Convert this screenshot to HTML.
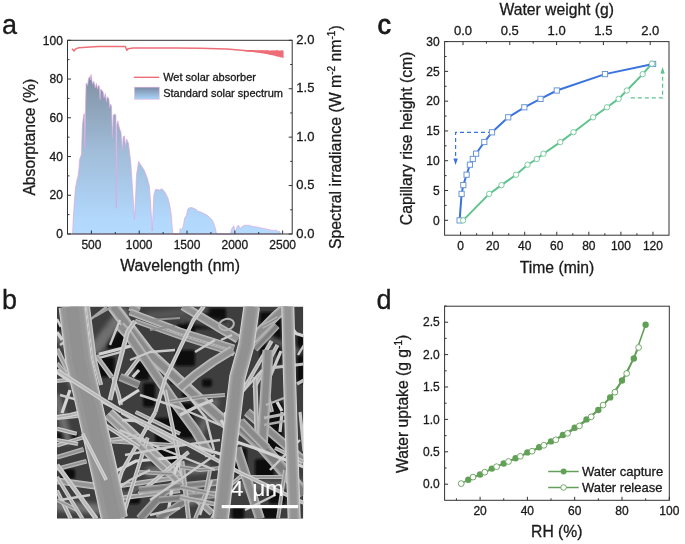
<!DOCTYPE html>
<html><head><meta charset="utf-8"><style>
html,body{margin:0;padding:0;background:#fff;}
svg{display:block;font-family:"Liberation Sans", sans-serif;will-change:transform;}
text{stroke:#1a1a1a;stroke-width:0.3px;}
</style></head><body>
<svg width="685" height="544" viewBox="0 0 685 544">
<rect width="685" height="544" fill="#fff"/>
<defs><linearGradient id="sg" gradientUnits="userSpaceOnUse" x1="0" y1="74" x2="0" y2="234"><stop offset="0" stop-color="#7e8da5"/><stop offset="0.106" stop-color="#879aae"/><stop offset="0.475" stop-color="#a0bcd8"/><stop offset="0.9125" stop-color="#b2d8fc"/><stop offset="1" stop-color="#b4dafe"/></linearGradient><linearGradient id="lg" x1="0" y1="0" x2="0" y2="1"><stop offset="0" stop-color="#7a8aa6"/><stop offset="1" stop-color="#aad6fa"/></linearGradient></defs>
<polygon points="72.6,234.0 73.5,215.0 75.3,189.0 77.0,180.0 78.1,176.0 79.0,168.0 79.5,160.0 81.5,154.0 82.2,130.0 82.6,124.0 83.5,116.0 84.3,113.5 84.9,148.0 85.4,113.0 86.1,83.4 87.0,84.0 87.6,85.6 88.3,80.0 89.0,77.6 89.9,76.8 90.4,80.0 91.1,74.5 92.0,81.2 92.7,84.2 93.8,81.2 95.3,87.9 96.4,83.4 97.5,89.3 98.5,85.5 99.3,86.0 100.1,99.6 100.6,89.0 101.4,90.1 103.0,91.5 104.1,98.1 105.4,93.4 106.3,101.8 107.4,96.7 108.9,98.9 109.6,107.7 110.5,104.0 111.5,106.2 112.4,137.6 113.3,115.0 115.2,113.9 115.9,116.0 116.3,208.4 116.8,125.0 117.8,120.9 119.4,128.0 121.0,132.5 122.3,150.8 123.2,137.0 124.4,135.8 125.5,146.8 126.6,139.1 128.5,143.5 129.3,150.0 130.7,161.5 132.4,186.3 134.5,219.4 135.5,200.0 136.5,174.8 138.7,161.5 140.7,164.8 144.0,169.8 147.3,178.0 149.4,186.3 150.6,202.9 152.2,231.0 153.9,194.6 155.5,189.6 157.2,189.6 159.5,190.0 162.1,188.8 165.5,193.0 167.9,197.9 169.6,204.5 171.2,214.4 172.6,232.6 172.9,234.0 179.7,234.0 180.2,228.4 181.8,230.0 183.3,225.9 184.8,217.7 186.3,215.7 187.9,209.0 188.9,208.0 191.5,207.5 194.0,208.5 196.1,209.5 198.1,211.4 200.7,212.1 203.7,213.6 206.8,215.1 209.9,217.7 212.4,220.3 213.9,223.8 215.5,229.0 216.5,234.0 230.3,234.0 231.9,228.5 233.8,225.8 235.2,232.7 237.1,226.6 238.5,225.1 240.0,228.5 241.9,227.0 243.8,225.4 248.0,225.4 253.7,226.6 258.5,227.3 263.2,228.5 268.0,229.4 272.7,230.4 276.5,230.2 278.4,231.8 279.3,231.1 281.2,234.0" fill="url(#sg)" stroke="#dba6dc" stroke-width="0.7" stroke-linejoin="round"/>
<polyline points="72.0,48.8 74.1,50.9 75.3,49.2 76.8,48.4 79.0,47.8 82.6,47.4 90.0,47.0 98.8,46.6 110.0,46.6 125.3,46.6 126.3,48.8 126.8,50.3 127.8,49.0 129.7,48.4 133.0,48.1 140.0,47.9 160.0,47.9 175.0,47.9 200.0,48.3 226.5,48.9 230.0,49.2 244.2,50.5 250.0,51.0 258.5,51.4 265.0,52.0 272.7,52.0 278.0,52.6 283.3,53.0" fill="none" stroke="#ee6e78" stroke-width="1.5" stroke-linejoin="round"/>
<polygon points="245.0,50.0 245.5,50.0 246.0,50.0 246.5,50.0 247.0,50.0 247.5,50.0 248.0,50.0 248.5,50.1 249.0,50.1 249.5,50.1 250.0,50.1 250.5,50.1 251.0,50.1 251.5,50.1 252.0,50.1 252.5,50.1 253.0,50.1 253.5,50.1 254.0,50.1 254.5,50.0 255.0,50.2 255.5,50.2 256.0,50.2 256.5,50.2 257.0,50.2 257.5,50.2 258.0,50.2 258.5,50.2 259.0,50.2 259.5,50.2 260.0,50.2 260.5,50.2 261.0,49.9 261.5,50.3 262.0,49.9 262.5,50.3 263.0,49.9 263.5,50.3 264.0,50.3 264.5,50.3 265.0,50.3 265.5,50.3 266.0,50.3 266.5,50.3 267.0,49.9 267.5,50.3 268.0,49.9 268.5,50.4 269.0,50.4 269.5,50.4 270.0,50.4 270.5,50.4 271.0,50.4 271.5,50.4 272.0,49.9 272.5,50.4 273.0,50.4 273.5,50.4 274.0,49.8 274.5,50.5 275.0,50.5 275.5,50.5 276.0,50.5 276.5,49.8 277.0,50.5 277.5,49.8 278.0,50.5 278.5,50.5 279.0,50.5 279.5,50.5 280.0,50.5 280.5,50.6 281.0,50.6 281.5,50.6 282.0,49.8 282.5,50.6 283.0,50.6 283.5,50.6 283.6,58.0 283.0,57.9 282.5,57.5 282.0,57.8 281.5,57.4 281.0,57.2 280.5,57.7 280.0,56.7 279.5,57.0 279.0,57.1 278.5,56.7 278.0,56.5 277.5,56.6 277.0,56.9 276.5,55.9 276.0,56.4 275.5,56.0 275.0,55.9 274.5,55.5 274.0,55.8 273.5,55.7 273.0,55.1 272.5,55.4 272.0,55.1 271.5,55.3 271.0,55.0 270.5,55.0 270.0,54.9 269.5,54.7 269.0,54.5 268.5,54.7 268.0,54.6 267.5,54.1 267.0,54.2 266.5,53.9 266.0,53.8 265.5,54.1 265.0,54.0 264.5,53.7 264.0,53.5 263.5,53.4 263.0,53.6 262.5,53.3 262.0,53.4 261.5,53.4 261.0,53.1 260.5,53.1 260.0,52.9 259.5,52.9 259.0,52.9 258.5,52.7 258.0,52.8 257.5,52.7 257.0,52.6 256.5,52.5 256.0,52.4 255.5,52.4 255.0,52.3 254.5,52.3 254.0,52.2 253.5,52.2 253.0,52.1 252.5,52.1 252.0,52.0 251.5,52.0 251.0,51.9 250.5,51.9 250.0,51.8 249.5,51.8 249.0,51.8 248.5,51.7 248.0,51.7 247.5,51.6 247.0,51.6 246.5,51.6 246.0,51.6 245.5,51.5 245.0,51.5" fill="#ee6e78"/>
<rect x="67.5" y="40.3" width="224.7" height="193.7" fill="none" stroke="#333333" stroke-width="1"/>
<line x1="67.50" y1="234.00" x2="71.00" y2="234.00" stroke="#333333" stroke-width="1" />
<text x="62.90" y="238.20" font-size="12" text-anchor="end" fill="#1a1a1a" >0</text>
<line x1="67.50" y1="214.63" x2="69.50" y2="214.63" stroke="#333333" stroke-width="1" />
<line x1="67.50" y1="195.26" x2="71.00" y2="195.26" stroke="#333333" stroke-width="1" />
<text x="62.90" y="199.46" font-size="12" text-anchor="end" fill="#1a1a1a" >20</text>
<line x1="67.50" y1="175.89" x2="69.50" y2="175.89" stroke="#333333" stroke-width="1" />
<line x1="67.50" y1="156.52" x2="71.00" y2="156.52" stroke="#333333" stroke-width="1" />
<text x="62.90" y="160.72" font-size="12" text-anchor="end" fill="#1a1a1a" >40</text>
<line x1="67.50" y1="137.15" x2="69.50" y2="137.15" stroke="#333333" stroke-width="1" />
<line x1="67.50" y1="117.78" x2="71.00" y2="117.78" stroke="#333333" stroke-width="1" />
<text x="62.90" y="121.98" font-size="12" text-anchor="end" fill="#1a1a1a" >60</text>
<line x1="67.50" y1="98.41" x2="69.50" y2="98.41" stroke="#333333" stroke-width="1" />
<line x1="67.50" y1="79.04" x2="71.00" y2="79.04" stroke="#333333" stroke-width="1" />
<text x="62.90" y="83.24" font-size="12" text-anchor="end" fill="#1a1a1a" >80</text>
<line x1="67.50" y1="59.67" x2="69.50" y2="59.67" stroke="#333333" stroke-width="1" />
<line x1="67.50" y1="40.30" x2="71.00" y2="40.30" stroke="#333333" stroke-width="1" />
<text x="62.90" y="44.50" font-size="12" text-anchor="end" fill="#1a1a1a" >100</text>
<line x1="292.20" y1="234.00" x2="288.70" y2="234.00" stroke="#333333" stroke-width="1" />
<text x="296.30" y="237.70" font-size="13" text-anchor="start" fill="#1a1a1a" >0.0</text>
<line x1="292.20" y1="209.79" x2="290.20" y2="209.79" stroke="#333333" stroke-width="1" />
<line x1="292.20" y1="185.57" x2="288.70" y2="185.57" stroke="#333333" stroke-width="1" />
<text x="296.30" y="189.27" font-size="13" text-anchor="start" fill="#1a1a1a" >0.5</text>
<line x1="292.20" y1="161.36" x2="290.20" y2="161.36" stroke="#333333" stroke-width="1" />
<line x1="292.20" y1="137.15" x2="288.70" y2="137.15" stroke="#333333" stroke-width="1" />
<text x="296.30" y="140.85" font-size="13" text-anchor="start" fill="#1a1a1a" >1.0</text>
<line x1="292.20" y1="112.94" x2="290.20" y2="112.94" stroke="#333333" stroke-width="1" />
<line x1="292.20" y1="88.73" x2="288.70" y2="88.73" stroke="#333333" stroke-width="1" />
<text x="296.30" y="92.43" font-size="13" text-anchor="start" fill="#1a1a1a" >1.5</text>
<line x1="292.20" y1="64.51" x2="290.20" y2="64.51" stroke="#333333" stroke-width="1" />
<line x1="292.20" y1="40.30" x2="288.70" y2="40.30" stroke="#333333" stroke-width="1" />
<text x="296.30" y="44.00" font-size="13" text-anchor="start" fill="#1a1a1a" >2.0</text>
<line x1="91.40" y1="234.00" x2="91.40" y2="230.50" stroke="#333333" stroke-width="1" />
<text x="91.40" y="248.80" font-size="12" text-anchor="middle" fill="#1a1a1a" >500</text>
<line x1="115.31" y1="234.00" x2="115.31" y2="232.00" stroke="#333333" stroke-width="1" />
<line x1="139.21" y1="234.00" x2="139.21" y2="230.50" stroke="#333333" stroke-width="1" />
<text x="139.21" y="248.80" font-size="12" text-anchor="middle" fill="#1a1a1a" >1000</text>
<line x1="163.12" y1="234.00" x2="163.12" y2="232.00" stroke="#333333" stroke-width="1" />
<line x1="187.02" y1="234.00" x2="187.02" y2="230.50" stroke="#333333" stroke-width="1" />
<text x="187.02" y="248.80" font-size="12" text-anchor="middle" fill="#1a1a1a" >1500</text>
<line x1="210.93" y1="234.00" x2="210.93" y2="232.00" stroke="#333333" stroke-width="1" />
<line x1="234.83" y1="234.00" x2="234.83" y2="230.50" stroke="#333333" stroke-width="1" />
<text x="234.83" y="248.80" font-size="12" text-anchor="middle" fill="#1a1a1a" >2000</text>
<line x1="258.73" y1="234.00" x2="258.73" y2="232.00" stroke="#333333" stroke-width="1" />
<line x1="282.64" y1="234.00" x2="282.64" y2="230.50" stroke="#333333" stroke-width="1" />
<text x="282.64" y="248.80" font-size="12" text-anchor="middle" fill="#1a1a1a" >2500</text>
<text x="180.10" y="271.20" font-size="15.8" text-anchor="middle" fill="#1a1a1a" >Wavelength (nm)</text>
<text x="0.00" y="0.00" font-size="15.7" text-anchor="middle" fill="#1a1a1a" transform="translate(34.9,137.2) rotate(-90)">Absorptance (%)</text>
<text font-size="15.85" text-anchor="middle" fill="#1a1a1a" transform="translate(340.6,137.2) rotate(-90)">Spectral irradiance (W m<tspan font-size="10" dy="-6">-2</tspan><tspan dy="6"> nm</tspan><tspan font-size="10" dy="-6">-1</tspan><tspan dy="6">)</tspan></text>
<line x1="133.90" y1="77.30" x2="159.20" y2="77.30" stroke="#ee6e78" stroke-width="1.4" />
<rect x="134.6" y="87.2" width="24.6" height="12" fill="url(#lg)" stroke="#dcb0e0" stroke-width="0.6"/>
<text x="163.20" y="81.10" font-size="11" text-anchor="start" fill="#1a1a1a" >Wet solar absorber</text>
<text x="163.20" y="96.90" font-size="11" text-anchor="start" fill="#1a1a1a" >Standard solar spectrum</text>
<text x="2.00" y="34.00" font-size="27" text-anchor="start" fill="#1a1a1a" >a</text>
<rect x="444.6" y="41.6" width="224.39999999999998" height="193.6" fill="none" stroke="#333333" stroke-width="1"/>
<line x1="444.60" y1="220.30" x2="448.10" y2="220.30" stroke="#333333" stroke-width="1" />
<text x="439.70" y="224.50" font-size="12" text-anchor="end" fill="#1a1a1a" >0</text>
<line x1="444.60" y1="205.41" x2="446.60" y2="205.41" stroke="#333333" stroke-width="1" />
<line x1="444.60" y1="190.52" x2="448.10" y2="190.52" stroke="#333333" stroke-width="1" />
<text x="439.70" y="194.72" font-size="12" text-anchor="end" fill="#1a1a1a" >5</text>
<line x1="444.60" y1="175.62" x2="446.60" y2="175.62" stroke="#333333" stroke-width="1" />
<line x1="444.60" y1="160.73" x2="448.10" y2="160.73" stroke="#333333" stroke-width="1" />
<text x="439.70" y="164.93" font-size="12" text-anchor="end" fill="#1a1a1a" >10</text>
<line x1="444.60" y1="145.84" x2="446.60" y2="145.84" stroke="#333333" stroke-width="1" />
<line x1="444.60" y1="130.94" x2="448.10" y2="130.94" stroke="#333333" stroke-width="1" />
<text x="439.70" y="135.14" font-size="12" text-anchor="end" fill="#1a1a1a" >15</text>
<line x1="444.60" y1="116.05" x2="446.60" y2="116.05" stroke="#333333" stroke-width="1" />
<line x1="444.60" y1="101.16" x2="448.10" y2="101.16" stroke="#333333" stroke-width="1" />
<text x="439.70" y="105.36" font-size="12" text-anchor="end" fill="#1a1a1a" >20</text>
<line x1="444.60" y1="86.27" x2="446.60" y2="86.27" stroke="#333333" stroke-width="1" />
<line x1="444.60" y1="71.38" x2="448.10" y2="71.38" stroke="#333333" stroke-width="1" />
<text x="439.70" y="75.58" font-size="12" text-anchor="end" fill="#1a1a1a" >25</text>
<line x1="444.60" y1="56.48" x2="446.60" y2="56.48" stroke="#333333" stroke-width="1" />
<line x1="444.60" y1="41.59" x2="448.10" y2="41.59" stroke="#333333" stroke-width="1" />
<text x="439.70" y="45.79" font-size="12" text-anchor="end" fill="#1a1a1a" >30</text>
<line x1="460.60" y1="235.20" x2="460.60" y2="231.70" stroke="#333333" stroke-width="1" />
<text x="460.60" y="249.80" font-size="12" text-anchor="middle" fill="#1a1a1a" >0</text>
<line x1="476.63" y1="235.20" x2="476.63" y2="233.20" stroke="#333333" stroke-width="1" />
<line x1="492.66" y1="235.20" x2="492.66" y2="231.70" stroke="#333333" stroke-width="1" />
<text x="492.66" y="249.80" font-size="12" text-anchor="middle" fill="#1a1a1a" >20</text>
<line x1="508.69" y1="235.20" x2="508.69" y2="233.20" stroke="#333333" stroke-width="1" />
<line x1="524.72" y1="235.20" x2="524.72" y2="231.70" stroke="#333333" stroke-width="1" />
<text x="524.72" y="249.80" font-size="12" text-anchor="middle" fill="#1a1a1a" >40</text>
<line x1="540.75" y1="235.20" x2="540.75" y2="233.20" stroke="#333333" stroke-width="1" />
<line x1="556.78" y1="235.20" x2="556.78" y2="231.70" stroke="#333333" stroke-width="1" />
<text x="556.78" y="249.80" font-size="12" text-anchor="middle" fill="#1a1a1a" >60</text>
<line x1="572.81" y1="235.20" x2="572.81" y2="233.20" stroke="#333333" stroke-width="1" />
<line x1="588.84" y1="235.20" x2="588.84" y2="231.70" stroke="#333333" stroke-width="1" />
<text x="588.84" y="249.80" font-size="12" text-anchor="middle" fill="#1a1a1a" >80</text>
<line x1="604.87" y1="235.20" x2="604.87" y2="233.20" stroke="#333333" stroke-width="1" />
<line x1="620.90" y1="235.20" x2="620.90" y2="231.70" stroke="#333333" stroke-width="1" />
<text x="620.90" y="249.80" font-size="12" text-anchor="middle" fill="#1a1a1a" >100</text>
<line x1="636.93" y1="235.20" x2="636.93" y2="233.20" stroke="#333333" stroke-width="1" />
<line x1="652.96" y1="235.20" x2="652.96" y2="231.70" stroke="#333333" stroke-width="1" />
<text x="652.96" y="249.80" font-size="12" text-anchor="middle" fill="#1a1a1a" >120</text>
<line x1="463.00" y1="41.60" x2="463.00" y2="45.10" stroke="#333333" stroke-width="1" />
<text x="463.00" y="34.90" font-size="13" text-anchor="middle" fill="#1a1a1a" >0.0</text>
<line x1="486.40" y1="41.60" x2="486.40" y2="43.60" stroke="#333333" stroke-width="1" />
<line x1="509.80" y1="41.60" x2="509.80" y2="45.10" stroke="#333333" stroke-width="1" />
<text x="509.80" y="34.90" font-size="13" text-anchor="middle" fill="#1a1a1a" >0.5</text>
<line x1="533.20" y1="41.60" x2="533.20" y2="43.60" stroke="#333333" stroke-width="1" />
<line x1="556.60" y1="41.60" x2="556.60" y2="45.10" stroke="#333333" stroke-width="1" />
<text x="556.60" y="34.90" font-size="13" text-anchor="middle" fill="#1a1a1a" >1.0</text>
<line x1="580.00" y1="41.60" x2="580.00" y2="43.60" stroke="#333333" stroke-width="1" />
<line x1="603.40" y1="41.60" x2="603.40" y2="45.10" stroke="#333333" stroke-width="1" />
<text x="603.40" y="34.90" font-size="13" text-anchor="middle" fill="#1a1a1a" >1.5</text>
<line x1="626.80" y1="41.60" x2="626.80" y2="43.60" stroke="#333333" stroke-width="1" />
<line x1="650.20" y1="41.60" x2="650.20" y2="45.10" stroke="#333333" stroke-width="1" />
<text x="650.20" y="34.90" font-size="13" text-anchor="middle" fill="#1a1a1a" >2.0</text>
<text x="557.00" y="273.00" font-size="15.7" text-anchor="middle" fill="#1a1a1a" >Time (min)</text>
<text x="556.75" y="14.70" font-size="15.7" text-anchor="middle" fill="#1a1a1a" >Water weight (g)</text>
<text x="0.00" y="0.00" font-size="15.7" text-anchor="middle" fill="#1a1a1a" transform="translate(411.5,138.4) rotate(-90)">Capillary rise height (cm)</text>
<text x="377.40" y="34.00" font-size="27" text-anchor="start" fill="#1a1a1a" style="stroke-width:0.9px">c</text>
<polyline points="492,132.3 455.6,132.3 455.6,160" fill="none" stroke="#3a73e0" stroke-width="1.2" stroke-dasharray="4,3"/>
<polygon points="453.4,158.5 457.8,158.5 455.6,165" fill="#3a73e0"/>
<polyline points="630.8,97.9 662.6,97.9 662.6,72" fill="none" stroke="#5ec48e" stroke-width="1.2" stroke-dasharray="4,3"/>
<polygon points="660.4,73.5 664.8,73.5 662.6,67" fill="#5ec48e"/>
<polyline points="459.6,220.4 461.6,193.9 463.3,185.1 466.6,174.7 469.9,164.7 472.8,159 476.1,153.7 484.3,142 492,132.3 508.2,117.3 524.3,107.3 540.5,98.9 556.8,90.5 605,74.1 653.1,63.9" fill="none" stroke="#3a73e0" stroke-width="2"/>
<polyline points="463.1,220.4 489.2,193.9 501.5,185.1 516.1,174.7 527.6,164.7 536.8,159 543.5,153.7 560.3,142.1 573.5,132.2 593.1,117.3 607,107.3 618.6,98.9 626.8,90.5 642.7,74.1 651.9,63.7" fill="none" stroke="#5ec48e" stroke-width="2"/>
<rect x="457.0" y="217.8" width="5.2" height="5.2" fill="#fff" stroke="#6b97d8" stroke-width="1"/>
<rect x="459.0" y="191.3" width="5.2" height="5.2" fill="#fff" stroke="#6b97d8" stroke-width="1"/>
<rect x="460.7" y="182.5" width="5.2" height="5.2" fill="#fff" stroke="#6b97d8" stroke-width="1"/>
<rect x="464.0" y="172.1" width="5.2" height="5.2" fill="#fff" stroke="#6b97d8" stroke-width="1"/>
<rect x="467.3" y="162.1" width="5.2" height="5.2" fill="#fff" stroke="#6b97d8" stroke-width="1"/>
<rect x="470.2" y="156.4" width="5.2" height="5.2" fill="#fff" stroke="#6b97d8" stroke-width="1"/>
<rect x="473.5" y="151.1" width="5.2" height="5.2" fill="#fff" stroke="#6b97d8" stroke-width="1"/>
<rect x="481.7" y="139.4" width="5.2" height="5.2" fill="#fff" stroke="#6b97d8" stroke-width="1"/>
<rect x="489.4" y="129.7" width="5.2" height="5.2" fill="#fff" stroke="#6b97d8" stroke-width="1"/>
<rect x="505.6" y="114.7" width="5.2" height="5.2" fill="#fff" stroke="#6b97d8" stroke-width="1"/>
<rect x="521.7" y="104.7" width="5.2" height="5.2" fill="#fff" stroke="#6b97d8" stroke-width="1"/>
<rect x="537.9" y="96.3" width="5.2" height="5.2" fill="#fff" stroke="#6b97d8" stroke-width="1"/>
<rect x="554.2" y="87.9" width="5.2" height="5.2" fill="#fff" stroke="#6b97d8" stroke-width="1"/>
<rect x="602.4" y="71.5" width="5.2" height="5.2" fill="#fff" stroke="#6b97d8" stroke-width="1"/>
<rect x="650.5" y="61.3" width="5.2" height="5.2" fill="#fff" stroke="#6b97d8" stroke-width="1"/>
<circle cx="463.1" cy="220.4" r="2.7" fill="#fff" stroke="#7dcca2" stroke-width="1"/>
<circle cx="489.2" cy="193.9" r="2.7" fill="#fff" stroke="#7dcca2" stroke-width="1"/>
<circle cx="501.5" cy="185.1" r="2.7" fill="#fff" stroke="#7dcca2" stroke-width="1"/>
<circle cx="516.1" cy="174.7" r="2.7" fill="#fff" stroke="#7dcca2" stroke-width="1"/>
<circle cx="527.6" cy="164.7" r="2.7" fill="#fff" stroke="#7dcca2" stroke-width="1"/>
<circle cx="536.8" cy="159" r="2.7" fill="#fff" stroke="#7dcca2" stroke-width="1"/>
<circle cx="543.5" cy="153.7" r="2.7" fill="#fff" stroke="#7dcca2" stroke-width="1"/>
<circle cx="560.3" cy="142.1" r="2.7" fill="#fff" stroke="#7dcca2" stroke-width="1"/>
<circle cx="573.5" cy="132.2" r="2.7" fill="#fff" stroke="#7dcca2" stroke-width="1"/>
<circle cx="593.1" cy="117.3" r="2.7" fill="#fff" stroke="#7dcca2" stroke-width="1"/>
<circle cx="607" cy="107.3" r="2.7" fill="#fff" stroke="#7dcca2" stroke-width="1"/>
<circle cx="618.6" cy="98.9" r="2.7" fill="#fff" stroke="#7dcca2" stroke-width="1"/>
<circle cx="626.8" cy="90.5" r="2.7" fill="#fff" stroke="#7dcca2" stroke-width="1"/>
<circle cx="642.7" cy="74.1" r="2.7" fill="#fff" stroke="#7dcca2" stroke-width="1"/>
<circle cx="651.9" cy="63.7" r="2.7" fill="#fff" stroke="#7dcca2" stroke-width="1"/>
<rect x="444.6" y="306.2" width="224.69999999999993" height="194.10000000000002" fill="none" stroke="#333333" stroke-width="1"/>
<line x1="444.60" y1="484.20" x2="448.10" y2="484.20" stroke="#333333" stroke-width="1" />
<text x="439.70" y="488.40" font-size="12" text-anchor="end" fill="#1a1a1a" >0.0</text>
<line x1="444.60" y1="468.00" x2="446.60" y2="468.00" stroke="#333333" stroke-width="1" />
<line x1="444.60" y1="451.80" x2="448.10" y2="451.80" stroke="#333333" stroke-width="1" />
<text x="439.70" y="456.00" font-size="12" text-anchor="end" fill="#1a1a1a" >0.5</text>
<line x1="444.60" y1="435.60" x2="446.60" y2="435.60" stroke="#333333" stroke-width="1" />
<line x1="444.60" y1="419.40" x2="448.10" y2="419.40" stroke="#333333" stroke-width="1" />
<text x="439.70" y="423.60" font-size="12" text-anchor="end" fill="#1a1a1a" >1.0</text>
<line x1="444.60" y1="403.20" x2="446.60" y2="403.20" stroke="#333333" stroke-width="1" />
<line x1="444.60" y1="387.00" x2="448.10" y2="387.00" stroke="#333333" stroke-width="1" />
<text x="439.70" y="391.20" font-size="12" text-anchor="end" fill="#1a1a1a" >1.5</text>
<line x1="444.60" y1="370.80" x2="446.60" y2="370.80" stroke="#333333" stroke-width="1" />
<line x1="444.60" y1="354.60" x2="448.10" y2="354.60" stroke="#333333" stroke-width="1" />
<text x="439.70" y="358.80" font-size="12" text-anchor="end" fill="#1a1a1a" >2.0</text>
<line x1="444.60" y1="338.40" x2="446.60" y2="338.40" stroke="#333333" stroke-width="1" />
<line x1="444.60" y1="322.20" x2="448.10" y2="322.20" stroke="#333333" stroke-width="1" />
<text x="439.70" y="326.40" font-size="12" text-anchor="end" fill="#1a1a1a" >2.5</text>
<line x1="444.60" y1="306.00" x2="446.60" y2="306.00" stroke="#333333" stroke-width="1" />
<line x1="456.43" y1="500.30" x2="456.43" y2="498.30" stroke="#333333" stroke-width="1" />
<line x1="480.08" y1="500.30" x2="480.08" y2="496.80" stroke="#333333" stroke-width="1" />
<text x="480.08" y="514.90" font-size="12" text-anchor="middle" fill="#1a1a1a" >20</text>
<line x1="503.73" y1="500.30" x2="503.73" y2="498.30" stroke="#333333" stroke-width="1" />
<line x1="527.38" y1="500.30" x2="527.38" y2="496.80" stroke="#333333" stroke-width="1" />
<text x="527.38" y="514.90" font-size="12" text-anchor="middle" fill="#1a1a1a" >40</text>
<line x1="551.04" y1="500.30" x2="551.04" y2="498.30" stroke="#333333" stroke-width="1" />
<line x1="574.69" y1="500.30" x2="574.69" y2="496.80" stroke="#333333" stroke-width="1" />
<text x="574.69" y="514.90" font-size="12" text-anchor="middle" fill="#1a1a1a" >60</text>
<line x1="598.34" y1="500.30" x2="598.34" y2="498.30" stroke="#333333" stroke-width="1" />
<line x1="621.99" y1="500.30" x2="621.99" y2="496.80" stroke="#333333" stroke-width="1" />
<text x="621.99" y="514.90" font-size="12" text-anchor="middle" fill="#1a1a1a" >80</text>
<line x1="645.65" y1="500.30" x2="645.65" y2="498.30" stroke="#333333" stroke-width="1" />
<line x1="669.30" y1="500.30" x2="669.30" y2="496.80" stroke="#333333" stroke-width="1" />
<text x="669.30" y="514.90" font-size="12" text-anchor="middle" fill="#1a1a1a" >100</text>
<text x="556.80" y="537.40" font-size="15.7" text-anchor="middle" fill="#1a1a1a" >RH (%)</text>
<text font-size="15.7" text-anchor="middle" fill="#1a1a1a" transform="translate(408.0,403.9) rotate(-90)">Water uptake (g g<tspan font-size="10" dy="-6">-1</tspan><tspan dy="6">)</tspan></text>
<text x="376.40" y="309.40" font-size="27" text-anchor="start" fill="#1a1a1a" >d</text>
<polyline points="468.3,479.7 480.1,474.5 491.9,468.6 503.7,463.5 515.6,458.3 527.4,452.4 539.2,447.3 551.0,441.4 562.9,435.0 574.7,427.8 586.5,419.4 598.3,410.0 610.2,397.4 622.0,380.5 633.8,358.5 645.6,324.8" fill="none" stroke="#62a058" stroke-width="1.6"/>
<polyline points="461.2,483.6 473.0,477.1 484.8,472.2 496.6,466.7 508.5,461.5 520.3,456.3 532.1,451.2 543.9,445.3 555.8,439.8 567.6,433.3 579.4,425.9 591.2,416.8 603.1,405.1 614.9,392.2 626.7,373.4 638.6,347.5" fill="none" stroke="#62a058" stroke-width="1.6"/>
<circle cx="468.3" cy="479.7" r="3.2" fill="#62a058"/>
<circle cx="480.1" cy="474.5" r="3.2" fill="#62a058"/>
<circle cx="491.9" cy="468.6" r="3.2" fill="#62a058"/>
<circle cx="503.7" cy="463.5" r="3.2" fill="#62a058"/>
<circle cx="515.6" cy="458.3" r="3.2" fill="#62a058"/>
<circle cx="527.4" cy="452.4" r="3.2" fill="#62a058"/>
<circle cx="539.2" cy="447.3" r="3.2" fill="#62a058"/>
<circle cx="551.0" cy="441.4" r="3.2" fill="#62a058"/>
<circle cx="562.9" cy="435.0" r="3.2" fill="#62a058"/>
<circle cx="574.7" cy="427.8" r="3.2" fill="#62a058"/>
<circle cx="586.5" cy="419.4" r="3.2" fill="#62a058"/>
<circle cx="598.3" cy="410.0" r="3.2" fill="#62a058"/>
<circle cx="610.2" cy="397.4" r="3.2" fill="#62a058"/>
<circle cx="622.0" cy="380.5" r="3.2" fill="#62a058"/>
<circle cx="633.8" cy="358.5" r="3.2" fill="#62a058"/>
<circle cx="645.6" cy="324.8" r="3.2" fill="#62a058"/>
<circle cx="461.2" cy="483.6" r="2.9" fill="#fff" stroke="#62a058" stroke-width="0.9"/>
<circle cx="473.0" cy="477.1" r="2.9" fill="#fff" stroke="#62a058" stroke-width="0.9"/>
<circle cx="484.8" cy="472.2" r="2.9" fill="#fff" stroke="#62a058" stroke-width="0.9"/>
<circle cx="496.6" cy="466.7" r="2.9" fill="#fff" stroke="#62a058" stroke-width="0.9"/>
<circle cx="508.5" cy="461.5" r="2.9" fill="#fff" stroke="#62a058" stroke-width="0.9"/>
<circle cx="520.3" cy="456.3" r="2.9" fill="#fff" stroke="#62a058" stroke-width="0.9"/>
<circle cx="532.1" cy="451.2" r="2.9" fill="#fff" stroke="#62a058" stroke-width="0.9"/>
<circle cx="543.9" cy="445.3" r="2.9" fill="#fff" stroke="#62a058" stroke-width="0.9"/>
<circle cx="555.8" cy="439.8" r="2.9" fill="#fff" stroke="#62a058" stroke-width="0.9"/>
<circle cx="567.6" cy="433.3" r="2.9" fill="#fff" stroke="#62a058" stroke-width="0.9"/>
<circle cx="579.4" cy="425.9" r="2.9" fill="#fff" stroke="#62a058" stroke-width="0.9"/>
<circle cx="591.2" cy="416.8" r="2.9" fill="#fff" stroke="#62a058" stroke-width="0.9"/>
<circle cx="603.1" cy="405.1" r="2.9" fill="#fff" stroke="#62a058" stroke-width="0.9"/>
<circle cx="614.9" cy="392.2" r="2.9" fill="#fff" stroke="#62a058" stroke-width="0.9"/>
<circle cx="626.7" cy="373.4" r="2.9" fill="#fff" stroke="#62a058" stroke-width="0.9"/>
<circle cx="638.6" cy="347.5" r="2.9" fill="#fff" stroke="#62a058" stroke-width="0.9"/>
<line x1="548.20" y1="471.50" x2="578.70" y2="471.50" stroke="#62a058" stroke-width="1.5" />
<circle cx="563.6" cy="471.5" r="3" fill="#62a058"/>
<line x1="548.20" y1="487.50" x2="578.70" y2="487.50" stroke="#62a058" stroke-width="1.5" />
<circle cx="563.6" cy="487.5" r="2.8" fill="#fff" stroke="#62a058" stroke-width="0.9"/>
<text x="582.00" y="475.80" font-size="13" text-anchor="start" fill="#1a1a1a" >Water capture</text>
<text x="582.00" y="491.80" font-size="13" text-anchor="start" fill="#1a1a1a" >Water release</text>
<text x="2.00" y="309.40" font-size="27" text-anchor="start" fill="#1a1a1a" >b</text>
<defs><clipPath id="semclip"><rect x="57.0" y="306.5" width="246.3" height="212.20000000000005"/></clipPath><filter id="bl2" filterUnits="userSpaceOnUse" x="0" y="280" width="340" height="264"><feGaussianBlur stdDeviation="2.2"/></filter><filter id="bl1" filterUnits="userSpaceOnUse" x="0" y="280" width="340" height="264"><feGaussianBlur stdDeviation="1.2"/></filter><filter id="bl0" filterUnits="userSpaceOnUse" x="0" y="280" width="340" height="264"><feGaussianBlur stdDeviation="0.45"/></filter></defs>
<g clip-path="url(#semclip)">
<rect x="57.0" y="306.5" width="246.3" height="212.20000000000005" fill="#3e3e3e"/>
<g filter="url(#bl1)">
<rect x="106.6" y="325.6" width="18.3" height="23.4" rx="3" fill="#0a0a0a"/>
<rect x="98.8" y="357.0" width="15.6" height="20.0" rx="3" fill="#0a0a0a"/>
<rect x="57.0" y="324.0" width="3.0" height="8.0" rx="3" fill="#0a0a0a"/>
<rect x="57.0" y="356.0" width="7.8" height="15.0" rx="3" fill="#0a0a0a"/>
<rect x="177.0" y="324.0" width="18.0" height="11.0" rx="3" fill="#0a0a0a"/>
<rect x="175.0" y="350.0" width="20.0" height="16.0" rx="3" fill="#0a0a0a"/>
<rect x="135.0" y="362.0" width="14.0" height="18.0" rx="3" fill="#0a0a0a"/>
<rect x="170.0" y="374.0" width="12.0" height="10.0" rx="3" fill="#0a0a0a"/>
<rect x="182.0" y="390.0" width="14.0" height="8.0" rx="3" fill="#0a0a0a"/>
<rect x="169.0" y="403.0" width="24.0" height="27.0" rx="3" fill="#0a0a0a"/>
<rect x="202.0" y="379.0" width="10.0" height="8.0" rx="3" fill="#0a0a0a"/>
<rect x="143.0" y="383.0" width="12.0" height="24.0" rx="3" fill="#0a0a0a"/>
<rect x="185.0" y="308.0" width="41.0" height="21.0" rx="3" fill="#0a0a0a"/>
<rect x="260.0" y="312.0" width="21.0" height="52.0" rx="3" fill="#0a0a0a"/>
<rect x="297.0" y="335.0" width="7.0" height="49.0" rx="3" fill="#0a0a0a"/>
<rect x="266.0" y="402.0" width="17.0" height="44.0" rx="3" fill="#0a0a0a"/>
<rect x="155.0" y="418.0" width="25.0" height="25.0" rx="3" fill="#0a0a0a"/>
<rect x="167.0" y="451.0" width="13.0" height="20.0" rx="3" fill="#0a0a0a"/>
<rect x="57.0" y="432.0" width="20.0" height="8.0" rx="3" fill="#0a0a0a"/>
<rect x="126.0" y="487.0" width="14.0" height="17.0" rx="3" fill="#0a0a0a"/>
<rect x="61.0" y="469.0" width="14.0" height="10.0" rx="3" fill="#0a0a0a"/>
<rect x="180.0" y="416.0" width="14.0" height="22.0" rx="3" fill="#0a0a0a"/>
<rect x="263.0" y="424.0" width="19.0" height="31.0" rx="3" fill="#0a0a0a"/>
<rect x="255.0" y="459.0" width="19.0" height="18.0" rx="3" fill="#0a0a0a"/>
<rect x="269.0" y="481.0" width="17.0" height="23.0" rx="3" fill="#0a0a0a"/>
<rect x="152.0" y="448.0" width="23.0" height="17.0" rx="3" fill="#0a0a0a"/>
<rect x="234.0" y="448.0" width="13.0" height="26.0" rx="3" fill="#0a0a0a"/>
<rect x="255.0" y="507.0" width="25.0" height="12.0" rx="3" fill="#0a0a0a"/>
<rect x="232.0" y="507.0" width="12.0" height="12.0" rx="3" fill="#0a0a0a"/>
</g>
<polyline points="96.2,347.8 110.0,330.0 122.3,313.8" fill="none" stroke="#707070" stroke-width="12" stroke-linejoin="round" stroke-linecap="round" filter="url(#bl2)"/>
<polyline points="150.0,316.0 205.0,310.0" fill="none" stroke="#555555" stroke-width="8" stroke-linejoin="round" stroke-linecap="round" filter="url(#bl2)"/>
<polyline points="57.0,336.0 68.0,346.0" fill="none" stroke="#6e6e6e" stroke-width="8" stroke-linejoin="round" stroke-linecap="round" filter="url(#bl2)"/>
<polyline points="255.0,332.0 300.0,352.0" fill="none" stroke="#5a5a5a" stroke-width="6" stroke-linejoin="round" stroke-linecap="round" filter="url(#bl2)"/>
<polyline points="150.0,472.0 205.0,468.0" fill="none" stroke="#6e6e6e" stroke-width="10" stroke-linejoin="round" stroke-linecap="round" filter="url(#bl2)"/>
<polyline points="240.0,487.0 300.0,484.0" fill="none" stroke="#646464" stroke-width="10" stroke-linejoin="round" stroke-linecap="round" filter="url(#bl2)"/>
<polyline points="57.0,506.0 100.0,509.0" fill="none" stroke="#737373" stroke-width="10" stroke-linejoin="round" stroke-linecap="round" filter="url(#bl2)"/>
<polyline points="190.0,500.0 225.0,490.0" fill="none" stroke="#737373" stroke-width="10" stroke-linejoin="round" stroke-linecap="round" filter="url(#bl2)"/>
<polyline points="57.0,398.0 68.0,440.0" fill="none" stroke="#6e6e6e" stroke-width="8" stroke-linejoin="round" stroke-linecap="round" filter="url(#bl2)"/>
<polyline points="120.0,500.0 140.0,486.0" fill="none" stroke="#646464" stroke-width="8" stroke-linejoin="round" stroke-linecap="round" filter="url(#bl2)"/>
<polyline points="200.0,432.0 215.0,402.0" fill="none" stroke="#646464" stroke-width="8" stroke-linejoin="round" stroke-linecap="round" filter="url(#bl2)"/>
<polyline points="62.0,362.0 78.0,392.0" fill="none" stroke="#737373" stroke-width="8" stroke-linejoin="round" stroke-linecap="round" filter="url(#bl2)"/>
<polyline points="185.0,318.0 225.0,326.0" fill="none" stroke="#505050" stroke-width="8" stroke-linejoin="round" stroke-linecap="round" filter="url(#bl2)"/>
<polyline points="265.0,330.0 275.0,360.0" fill="none" stroke="#505050" stroke-width="6" stroke-linejoin="round" stroke-linecap="round" filter="url(#bl2)"/>
<polyline points="155.0,425.0 175.0,440.0" fill="none" stroke="#505050" stroke-width="6" stroke-linejoin="round" stroke-linecap="round" filter="url(#bl2)"/>
<g filter="url(#bl0)"><polyline points="90.9,319.1 106.6,306.7" fill="none" stroke="#adadad" stroke-width="2.4000000000000004" stroke-linejoin="round"/></g>
<g filter="url(#bl0)"><polyline points="94.9,316.4 111.8,306.7" fill="none" stroke="#a4a4a4" stroke-width="2.4000000000000004" stroke-linejoin="round"/></g>
<g filter="url(#bl0)"><polyline points="98.8,354.3 139.0,343.9" fill="none" stroke="#d2d2d2" stroke-width="3.2" stroke-linejoin="round"/></g>
<g filter="url(#bl0)"><polyline points="100.1,357.6 122.3,351.7" fill="none" stroke="#c9c9c9" stroke-width="2.4000000000000004" stroke-linejoin="round"/></g>
<g filter="url(#bl0)"><polyline points="96.2,355.6 111.8,377.0" fill="none" stroke="#c4c4c4" stroke-width="4.800000000000001" stroke-linejoin="round"/><polyline points="96.2,355.6 111.8,377.0" fill="none" stroke="#aeaeae" stroke-width="2.8" stroke-linejoin="round"/><polyline points="96.2,355.6 111.8,377.0" fill="none" stroke="#979797" stroke-width="1.0" stroke-linejoin="round"/></g>
<g filter="url(#bl0)"><polyline points="124.9,377.0 139.0,358.2" fill="none" stroke="#d2d2d2" stroke-width="4.0" stroke-linejoin="round"/><polyline points="124.9,377.0 139.0,358.2" fill="none" stroke="#bcbcbc" stroke-width="2.0" stroke-linejoin="round"/><polyline points="124.9,377.0 139.0,358.2" fill="none" stroke="#a5a5a5" stroke-width="1.0" stroke-linejoin="round"/></g>
<g filter="url(#bl0)"><polyline points="132.7,377.0 139.0,370.0" fill="none" stroke="#cecece" stroke-width="3.2" stroke-linejoin="round"/></g>
<g filter="url(#bl0)"><polyline points="57.0,319.1 60.9,326.9" fill="none" stroke="#d4d4d4" stroke-width="2.4000000000000004" stroke-linejoin="round"/></g>
<g filter="url(#bl0)"><polyline points="57.0,332.1 62.2,339.9" fill="none" stroke="#d4d4d4" stroke-width="3.2" stroke-linejoin="round"/></g>
<g filter="url(#bl0)"><polyline points="57.0,349.1 68.1,371.3" fill="none" stroke="#c4c4c4" stroke-width="4.800000000000001" stroke-linejoin="round"/><polyline points="57.0,349.1 68.1,371.3" fill="none" stroke="#aeaeae" stroke-width="2.8" stroke-linejoin="round"/><polyline points="57.0,349.1 68.1,371.3" fill="none" stroke="#979797" stroke-width="1.0" stroke-linejoin="round"/></g>
<g filter="url(#bl0)"><polyline points="57.0,363.4 68.7,377.0" fill="none" stroke="#c0c0c0" stroke-width="4.0" stroke-linejoin="round"/><polyline points="57.0,363.4 68.7,377.0" fill="none" stroke="#a9a9a9" stroke-width="2.0" stroke-linejoin="round"/><polyline points="57.0,363.4 68.7,377.0" fill="none" stroke="#939393" stroke-width="1.0" stroke-linejoin="round"/></g>
<g filter="url(#bl0)"><polyline points="130.1,306.7 139.0,311.2" fill="none" stroke="#c0c0c0" stroke-width="8" stroke-linejoin="round"/><polyline points="130.1,306.7 139.0,311.2" fill="none" stroke="#a9a9a9" stroke-width="6.0" stroke-linejoin="round"/><polyline points="130.1,306.7 139.0,311.2" fill="none" stroke="#939393" stroke-width="4.0" stroke-linejoin="round"/></g>
<g filter="url(#bl0)"><polyline points="130.0,312.0 180.0,331.0 234.0,348.0" fill="none" stroke="#c0c0c0" stroke-width="7" stroke-linejoin="round"/><polyline points="130.0,312.0 180.0,331.0 234.0,348.0" fill="none" stroke="#a9a9a9" stroke-width="5.0" stroke-linejoin="round"/><polyline points="130.0,312.0 180.0,331.0 234.0,348.0" fill="none" stroke="#939393" stroke-width="3.0" stroke-linejoin="round"/></g>
<g filter="url(#bl0)"><polyline points="135.0,321.0 180.0,337.0 234.0,354.0" fill="none" stroke="#b7b7b7" stroke-width="4.800000000000001" stroke-linejoin="round"/><polyline points="135.0,321.0 180.0,337.0 234.0,354.0" fill="none" stroke="#a0a0a0" stroke-width="2.8" stroke-linejoin="round"/><polyline points="135.0,321.0 180.0,337.0 234.0,354.0" fill="none" stroke="#8a8a8a" stroke-width="1.0" stroke-linejoin="round"/></g>
<g filter="url(#bl0)"><polyline points="183.0,306.0 221.0,329.0 238.0,339.0" fill="none" stroke="#c0c0c0" stroke-width="9" stroke-linejoin="round"/><polyline points="183.0,306.0 221.0,329.0 238.0,339.0" fill="none" stroke="#a9a9a9" stroke-width="6.8" stroke-linejoin="round"/><polyline points="183.0,306.0 221.0,329.0 238.0,339.0" fill="none" stroke="#939393" stroke-width="4.7" stroke-linejoin="round"/></g>
<g filter="url(#bl0)"><polyline points="150.0,320.0 180.0,318.0" fill="none" stroke="#929292" stroke-width="2.0" stroke-linejoin="round"/></g>
<g filter="url(#bl0)"><polyline points="150.0,330.0 175.0,326.0" fill="none" stroke="#929292" stroke-width="2.0" stroke-linejoin="round"/></g>
<g filter="url(#bl0)"><ellipse cx="226.5" cy="324.5" rx="7.5" ry="5.5" transform="rotate(-15 226.5 324.5)" fill="none" stroke="#b4b4b4" stroke-width="2.0"/></g>
<g filter="url(#bl0)"><polyline points="245.0,346.0 254.8,337.0 275.0,316.6 287.0,306.0" fill="none" stroke="#bbbbbb" stroke-width="10" stroke-linejoin="round"/><polyline points="245.0,346.0 254.8,337.0 275.0,316.6 287.0,306.0" fill="none" stroke="#a5a5a5" stroke-width="7.6" stroke-linejoin="round"/><polyline points="245.0,346.0 254.8,337.0 275.0,316.6 287.0,306.0" fill="none" stroke="#8e8e8e" stroke-width="5.2" stroke-linejoin="round"/></g>
<g filter="url(#bl0)"><polyline points="271.6,341.0 244.3,388.0" fill="none" stroke="#d1d1d1" stroke-width="4.0" stroke-linejoin="round"/><polyline points="271.6,341.0 244.3,388.0" fill="none" stroke="#c2c2c2" stroke-width="2.0" stroke-linejoin="round"/><polyline points="271.6,341.0 244.3,388.0" fill="none" stroke="#b3b3b3" stroke-width="1.0" stroke-linejoin="round"/></g>
<g filter="url(#bl0)"><polyline points="277.5,345.0 254.0,388.0" fill="none" stroke="#cfcfcf" stroke-width="4.0" stroke-linejoin="round"/><polyline points="277.5,345.0 254.0,388.0" fill="none" stroke="#bebebe" stroke-width="2.0" stroke-linejoin="round"/><polyline points="277.5,345.0 254.0,388.0" fill="none" stroke="#aeaeae" stroke-width="1.0" stroke-linejoin="round"/></g>
<g filter="url(#bl0)"><polyline points="281.0,351.0 262.0,396.0" fill="none" stroke="#cccccc" stroke-width="3.2" stroke-linejoin="round"/></g>
<g filter="url(#bl0)"><polyline points="266.0,388.0 272.0,412.0" fill="none" stroke="#c9c9c9" stroke-width="4.0" stroke-linejoin="round"/><polyline points="266.0,388.0 272.0,412.0" fill="none" stroke="#b2b2b2" stroke-width="2.0" stroke-linejoin="round"/><polyline points="266.0,388.0 272.0,412.0" fill="none" stroke="#9c9c9c" stroke-width="1.0" stroke-linejoin="round"/></g>
<g filter="url(#bl0)"><polyline points="270.0,368.0 304.0,364.0" fill="none" stroke="#c4c4c4" stroke-width="3.2" stroke-linejoin="round"/></g>
<g filter="url(#bl0)"><polyline points="298.0,355.0 304.0,345.0" fill="none" stroke="#c9c9c9" stroke-width="2.4000000000000004" stroke-linejoin="round"/></g>
<g filter="url(#bl0)"><polyline points="297.0,384.0 304.0,380.0" fill="none" stroke="#c0c0c0" stroke-width="3.2" stroke-linejoin="round"/></g>
<g filter="url(#bl0)"><polyline points="262.0,327.0 278.0,318.0" fill="none" stroke="#b7b7b7" stroke-width="4.0" stroke-linejoin="round"/><polyline points="262.0,327.0 278.0,318.0" fill="none" stroke="#a0a0a0" stroke-width="2.0" stroke-linejoin="round"/><polyline points="262.0,327.0 278.0,318.0" fill="none" stroke="#8a8a8a" stroke-width="1.0" stroke-linejoin="round"/></g>
<g filter="url(#bl0)"><polyline points="255.0,349.0 277.0,325.6" fill="none" stroke="#adadad" stroke-width="7" stroke-linejoin="round"/><polyline points="255.0,349.0 277.0,325.6" fill="none" stroke="#979797" stroke-width="5.0" stroke-linejoin="round"/><polyline points="255.0,349.0 277.0,325.6" fill="none" stroke="#808080" stroke-width="3.0" stroke-linejoin="round"/></g>
<g filter="url(#bl0)"><polyline points="221.0,340.0 232.0,335.0" fill="none" stroke="#c9c9c9" stroke-width="2.4000000000000004" stroke-linejoin="round"/></g>
<g filter="url(#bl0)"><polyline points="113.0,306.5 148.4,352.7 199.8,400.0 222.0,420.0 240.0,434.0" fill="none" stroke="#c0c0c0" stroke-width="12" stroke-linejoin="round"/><polyline points="113.0,306.5 148.4,352.7 199.8,400.0 222.0,420.0 240.0,434.0" fill="none" stroke="#a9a9a9" stroke-width="9.1" stroke-linejoin="round"/><polyline points="113.0,306.5 148.4,352.7 199.8,400.0 222.0,420.0 240.0,434.0" fill="none" stroke="#939393" stroke-width="6.2" stroke-linejoin="round"/><polyline points="113.0,306.5 148.4,352.7 199.8,400.0 222.0,420.0 240.0,434.0" fill="none" stroke="#8b8b8b" stroke-width="5.4" stroke-linejoin="round"/></g>
<g filter="url(#bl0)"><polyline points="120.0,326.0 128.5,335.0 173.0,400.0 195.0,430.0 210.0,455.0" fill="none" stroke="#bbbbbb" stroke-width="10" stroke-linejoin="round"/><polyline points="120.0,326.0 128.5,335.0 173.0,400.0 195.0,430.0 210.0,455.0" fill="none" stroke="#a5a5a5" stroke-width="7.6" stroke-linejoin="round"/><polyline points="120.0,326.0 128.5,335.0 173.0,400.0 195.0,430.0 210.0,455.0" fill="none" stroke="#8e8e8e" stroke-width="5.2" stroke-linejoin="round"/></g>
<g filter="url(#bl0)"><polyline points="180.0,388.0 194.6,375.2 212.9,362.0 232.6,349.9" fill="none" stroke="#c0c0c0" stroke-width="9" stroke-linejoin="round"/><polyline points="180.0,388.0 194.6,375.2 212.9,362.0 232.6,349.9" fill="none" stroke="#a9a9a9" stroke-width="6.8" stroke-linejoin="round"/><polyline points="180.0,388.0 194.6,375.2 212.9,362.0 232.6,349.9" fill="none" stroke="#939393" stroke-width="4.7" stroke-linejoin="round"/></g>
<g filter="url(#bl0)"><polyline points="247.0,412.0 304.0,461.0" fill="none" stroke="#b7b7b7" stroke-width="9" stroke-linejoin="round"/><polyline points="247.0,412.0 304.0,461.0" fill="none" stroke="#a0a0a0" stroke-width="6.8" stroke-linejoin="round"/><polyline points="247.0,412.0 304.0,461.0" fill="none" stroke="#8a8a8a" stroke-width="4.7" stroke-linejoin="round"/></g>
<g filter="url(#bl0)"><polyline points="168.8,402.0 204.0,396.5 225.0,395.0" fill="none" stroke="#b7b7b7" stroke-width="4.0" stroke-linejoin="round"/><polyline points="168.8,402.0 204.0,396.5 225.0,395.0" fill="none" stroke="#a0a0a0" stroke-width="2.0" stroke-linejoin="round"/><polyline points="168.8,402.0 204.0,396.5 225.0,395.0" fill="none" stroke="#8a8a8a" stroke-width="1.0" stroke-linejoin="round"/></g>
<g filter="url(#bl0)"><polyline points="57.0,380.9 70.7,379.6" fill="none" stroke="#cecece" stroke-width="4.0" stroke-linejoin="round"/><polyline points="57.0,380.9 70.7,379.6" fill="none" stroke="#b7b7b7" stroke-width="2.0" stroke-linejoin="round"/><polyline points="57.0,380.9 70.7,379.6" fill="none" stroke="#a1a1a1" stroke-width="1.0" stroke-linejoin="round"/></g>
<g filter="url(#bl0)"><polyline points="57.0,417.9 77.7,415.9" fill="none" stroke="#cecece" stroke-width="4.0" stroke-linejoin="round"/><polyline points="57.0,417.9 77.7,415.9" fill="none" stroke="#b7b7b7" stroke-width="2.0" stroke-linejoin="round"/><polyline points="57.0,417.9 77.7,415.9" fill="none" stroke="#a1a1a1" stroke-width="1.0" stroke-linejoin="round"/></g>
<g filter="url(#bl0)"><polyline points="57.0,428.7 76.7,433.7" fill="none" stroke="#cecece" stroke-width="4.0" stroke-linejoin="round"/><polyline points="57.0,428.7 76.7,433.7" fill="none" stroke="#b7b7b7" stroke-width="2.0" stroke-linejoin="round"/><polyline points="57.0,428.7 76.7,433.7" fill="none" stroke="#a1a1a1" stroke-width="1.0" stroke-linejoin="round"/></g>
<g filter="url(#bl0)"><polyline points="57.0,445.5 82.6,437.6" fill="none" stroke="#c9c9c9" stroke-width="4.0" stroke-linejoin="round"/><polyline points="57.0,445.5 82.6,437.6" fill="none" stroke="#b2b2b2" stroke-width="2.0" stroke-linejoin="round"/><polyline points="57.0,445.5 82.6,437.6" fill="none" stroke="#9c9c9c" stroke-width="1.0" stroke-linejoin="round"/></g>
<g filter="url(#bl0)"><polyline points="57.0,457.3 83.6,449.4" fill="none" stroke="#b7b7b7" stroke-width="4.800000000000001" stroke-linejoin="round"/><polyline points="57.0,457.3 83.6,449.4" fill="none" stroke="#a0a0a0" stroke-width="2.8" stroke-linejoin="round"/><polyline points="57.0,457.3 83.6,449.4" fill="none" stroke="#8a8a8a" stroke-width="1.0" stroke-linejoin="round"/></g>
<g filter="url(#bl0)"><polyline points="57.0,469.0 86.5,461.2" fill="none" stroke="#bbbbbb" stroke-width="4.800000000000001" stroke-linejoin="round"/><polyline points="57.0,469.0 86.5,461.2" fill="none" stroke="#a5a5a5" stroke-width="2.8" stroke-linejoin="round"/><polyline points="57.0,469.0 86.5,461.2" fill="none" stroke="#8e8e8e" stroke-width="1.0" stroke-linejoin="round"/></g>
<g filter="url(#bl0)"><polyline points="57.0,480.9 100.3,486.8" fill="none" stroke="#c0c0c0" stroke-width="7" stroke-linejoin="round"/><polyline points="57.0,480.9 100.3,486.8" fill="none" stroke="#a9a9a9" stroke-width="5.0" stroke-linejoin="round"/><polyline points="57.0,480.9 100.3,486.8" fill="none" stroke="#939393" stroke-width="3.0" stroke-linejoin="round"/></g>
<g filter="url(#bl0)"><polyline points="57.0,490.7 70.8,519.0" fill="none" stroke="#d4d4d4" stroke-width="4.0" stroke-linejoin="round"/><polyline points="57.0,490.7 70.8,519.0" fill="none" stroke="#bfbfbf" stroke-width="2.0" stroke-linejoin="round"/><polyline points="57.0,490.7 70.8,519.0" fill="none" stroke="#aaaaaa" stroke-width="1.0" stroke-linejoin="round"/></g>
<g filter="url(#bl0)"><polyline points="57.0,500.0 77.0,510.0" fill="none" stroke="#c0c0c0" stroke-width="4.0" stroke-linejoin="round"/><polyline points="57.0,500.0 77.0,510.0" fill="none" stroke="#a9a9a9" stroke-width="2.0" stroke-linejoin="round"/><polyline points="57.0,500.0 77.0,510.0" fill="none" stroke="#939393" stroke-width="1.0" stroke-linejoin="round"/></g>
<g filter="url(#bl0)"><polyline points="57.0,465.0 96.4,519.0" fill="none" stroke="#d1d1d1" stroke-width="4.800000000000001" stroke-linejoin="round"/><polyline points="57.0,465.0 96.4,519.0" fill="none" stroke="#c2c2c2" stroke-width="2.8" stroke-linejoin="round"/><polyline points="57.0,465.0 96.4,519.0" fill="none" stroke="#b3b3b3" stroke-width="1.0" stroke-linejoin="round"/></g>
<g filter="url(#bl0)"><polyline points="57.0,477.0 82.6,519.0" fill="none" stroke="#cfcfcf" stroke-width="4.0" stroke-linejoin="round"/><polyline points="57.0,477.0 82.6,519.0" fill="none" stroke="#bebebe" stroke-width="2.0" stroke-linejoin="round"/><polyline points="57.0,477.0 82.6,519.0" fill="none" stroke="#aeaeae" stroke-width="1.0" stroke-linejoin="round"/></g>
<g filter="url(#bl0)"><polyline points="110.1,412.0 180.0,477.0" fill="none" stroke="#cecece" stroke-width="8" stroke-linejoin="round"/><polyline points="110.1,412.0 180.0,477.0" fill="none" stroke="#b7b7b7" stroke-width="6.0" stroke-linejoin="round"/><polyline points="110.1,412.0 180.0,477.0" fill="none" stroke="#a1a1a1" stroke-width="4.0" stroke-linejoin="round"/></g>
<g filter="url(#bl0)"><polyline points="122.0,412.0 180.0,445.5" fill="none" stroke="#d2d2d2" stroke-width="4.800000000000001" stroke-linejoin="round"/><polyline points="122.0,412.0 180.0,445.5" fill="none" stroke="#bcbcbc" stroke-width="2.8" stroke-linejoin="round"/><polyline points="122.0,412.0 180.0,445.5" fill="none" stroke="#a5a5a5" stroke-width="1.0" stroke-linejoin="round"/></g>
<g filter="url(#bl0)"><polyline points="135.7,412.0 180.0,433.7" fill="none" stroke="#cecece" stroke-width="4.0" stroke-linejoin="round"/><polyline points="135.7,412.0 180.0,433.7" fill="none" stroke="#b7b7b7" stroke-width="2.0" stroke-linejoin="round"/><polyline points="135.7,412.0 180.0,433.7" fill="none" stroke="#a1a1a1" stroke-width="1.0" stroke-linejoin="round"/></g>
<g filter="url(#bl0)"><polyline points="112.0,441.5 180.0,445.5" fill="none" stroke="#c0c0c0" stroke-width="4.0" stroke-linejoin="round"/><polyline points="112.0,441.5 180.0,445.5" fill="none" stroke="#a9a9a9" stroke-width="2.0" stroke-linejoin="round"/><polyline points="112.0,441.5 180.0,445.5" fill="none" stroke="#939393" stroke-width="1.0" stroke-linejoin="round"/></g>
<g filter="url(#bl0)"><polyline points="112.0,486.8 180.0,477.0" fill="none" stroke="#c0c0c0" stroke-width="4.800000000000001" stroke-linejoin="round"/><polyline points="112.0,486.8 180.0,477.0" fill="none" stroke="#a9a9a9" stroke-width="2.8" stroke-linejoin="round"/><polyline points="112.0,486.8 180.0,477.0" fill="none" stroke="#939393" stroke-width="1.0" stroke-linejoin="round"/></g>
<g filter="url(#bl0)"><polyline points="116.0,498.6 180.0,490.7" fill="none" stroke="#c0c0c0" stroke-width="4.800000000000001" stroke-linejoin="round"/><polyline points="116.0,498.6 180.0,490.7" fill="none" stroke="#a9a9a9" stroke-width="2.8" stroke-linejoin="round"/><polyline points="116.0,498.6 180.0,490.7" fill="none" stroke="#939393" stroke-width="1.0" stroke-linejoin="round"/></g>
<g filter="url(#bl0)"><polyline points="139.7,519.0 165.0,491.0 180.0,482.0" fill="none" stroke="#adadad" stroke-width="9" stroke-linejoin="round"/><polyline points="139.7,519.0 165.0,491.0 180.0,482.0" fill="none" stroke="#979797" stroke-width="6.8" stroke-linejoin="round"/><polyline points="139.7,519.0 165.0,491.0 180.0,482.0" fill="none" stroke="#808080" stroke-width="4.7" stroke-linejoin="round"/></g>
<g filter="url(#bl0)"><polyline points="116.0,471.0 136.0,461.0 180.0,457.0" fill="none" stroke="#d4d4d4" stroke-width="3.2" stroke-linejoin="round"/></g>
<g filter="url(#bl0)"><polyline points="147.6,437.6 122.0,519.0" fill="none" stroke="#d4d4d4" stroke-width="4.0" stroke-linejoin="round"/><polyline points="147.6,437.6 122.0,519.0" fill="none" stroke="#bfbfbf" stroke-width="2.0" stroke-linejoin="round"/><polyline points="147.6,437.6 122.0,519.0" fill="none" stroke="#aaaaaa" stroke-width="1.0" stroke-linejoin="round"/></g>
<g filter="url(#bl0)"><polyline points="155.4,412.0 122.0,471.0 116.0,490.0" fill="none" stroke="#d3d3d3" stroke-width="4.0" stroke-linejoin="round"/><polyline points="155.4,412.0 122.0,471.0 116.0,490.0" fill="none" stroke="#c5c5c5" stroke-width="2.0" stroke-linejoin="round"/><polyline points="155.4,412.0 122.0,471.0 116.0,490.0" fill="none" stroke="#b8b8b8" stroke-width="1.0" stroke-linejoin="round"/></g>
<g filter="url(#bl0)"><polyline points="165.0,390.0 176.9,448.0 183.0,478.0" fill="none" stroke="#d2d2d2" stroke-width="4.0" stroke-linejoin="round"/><polyline points="165.0,390.0 176.9,448.0 183.0,478.0" fill="none" stroke="#bcbcbc" stroke-width="2.0" stroke-linejoin="round"/><polyline points="165.0,390.0 176.9,448.0 183.0,478.0" fill="none" stroke="#a5a5a5" stroke-width="1.0" stroke-linejoin="round"/></g>
<g filter="url(#bl0)"><polyline points="167.0,519.0 175.0,471.0 180.0,461.0" fill="none" stroke="#d2d2d2" stroke-width="3.2" stroke-linejoin="round"/></g>
<g filter="url(#bl0)"><polyline points="106.6,415.4 141.6,448.0 212.0,513.0" fill="none" stroke="#c4c4c4" stroke-width="7" stroke-linejoin="round"/><polyline points="106.6,415.4 141.6,448.0 212.0,513.0" fill="none" stroke="#aeaeae" stroke-width="5.0" stroke-linejoin="round"/><polyline points="106.6,415.4 141.6,448.0 212.0,513.0" fill="none" stroke="#979797" stroke-width="3.0" stroke-linejoin="round"/></g>
<g filter="url(#bl0)"><polyline points="139.0,493.7 188.6,452.0" fill="none" stroke="#d1d1d1" stroke-width="4.0" stroke-linejoin="round"/><polyline points="139.0,493.7 188.6,452.0" fill="none" stroke="#c2c2c2" stroke-width="2.0" stroke-linejoin="round"/><polyline points="139.0,493.7 188.6,452.0" fill="none" stroke="#b3b3b3" stroke-width="1.0" stroke-linejoin="round"/></g>
<g filter="url(#bl0)"><polyline points="139.0,490.0 221.0,482.0" fill="none" stroke="#adadad" stroke-width="7" stroke-linejoin="round"/><polyline points="139.0,490.0 221.0,482.0" fill="none" stroke="#979797" stroke-width="5.0" stroke-linejoin="round"/><polyline points="139.0,490.0 221.0,482.0" fill="none" stroke="#808080" stroke-width="3.0" stroke-linejoin="round"/></g>
<g filter="url(#bl0)"><polyline points="158.0,519.0 191.0,497.0" fill="none" stroke="#a9a9a9" stroke-width="8" stroke-linejoin="round"/><polyline points="158.0,519.0 191.0,497.0" fill="none" stroke="#929292" stroke-width="6.0" stroke-linejoin="round"/><polyline points="158.0,519.0 191.0,497.0" fill="none" stroke="#7c7c7c" stroke-width="4.0" stroke-linejoin="round"/></g>
<g filter="url(#bl0)"><polyline points="159.0,500.0 221.0,494.0" fill="none" stroke="#a9a9a9" stroke-width="7" stroke-linejoin="round"/><polyline points="159.0,500.0 221.0,494.0" fill="none" stroke="#929292" stroke-width="5.0" stroke-linejoin="round"/><polyline points="159.0,500.0 221.0,494.0" fill="none" stroke="#7c7c7c" stroke-width="3.0" stroke-linejoin="round"/></g>
<g filter="url(#bl0)"><polyline points="139.0,472.0 172.0,474.0" fill="none" stroke="#b7b7b7" stroke-width="4.0" stroke-linejoin="round"/><polyline points="139.0,472.0 172.0,474.0" fill="none" stroke="#a0a0a0" stroke-width="2.0" stroke-linejoin="round"/><polyline points="139.0,472.0 172.0,474.0" fill="none" stroke="#8a8a8a" stroke-width="1.0" stroke-linejoin="round"/></g>
<g filter="url(#bl0)"><polyline points="182.0,461.0 188.6,519.0" fill="none" stroke="#c4c4c4" stroke-width="4.800000000000001" stroke-linejoin="round"/><polyline points="182.0,461.0 188.6,519.0" fill="none" stroke="#aeaeae" stroke-width="2.8" stroke-linejoin="round"/><polyline points="182.0,461.0 188.6,519.0" fill="none" stroke="#979797" stroke-width="1.0" stroke-linejoin="round"/></g>
<g filter="url(#bl0)"><polyline points="195.0,519.0 205.0,495.0 210.0,470.0" fill="none" stroke="#c0c0c0" stroke-width="4.0" stroke-linejoin="round"/><polyline points="195.0,519.0 205.0,495.0 210.0,470.0" fill="none" stroke="#a9a9a9" stroke-width="2.0" stroke-linejoin="round"/><polyline points="195.0,519.0 205.0,495.0 210.0,470.0" fill="none" stroke="#939393" stroke-width="1.0" stroke-linejoin="round"/></g>
<g filter="url(#bl0)"><polyline points="180.0,441.5 240.0,460.0" fill="none" stroke="#d2d2d2" stroke-width="3.2" stroke-linejoin="round"/></g>
<g filter="url(#bl0)"><polyline points="180.0,467.0 200.0,470.0 220.0,468.0" fill="none" stroke="#b7b7b7" stroke-width="4.0" stroke-linejoin="round"/><polyline points="180.0,467.0 200.0,470.0 220.0,468.0" fill="none" stroke="#a0a0a0" stroke-width="2.0" stroke-linejoin="round"/><polyline points="180.0,467.0 200.0,470.0 220.0,468.0" fill="none" stroke="#8a8a8a" stroke-width="1.0" stroke-linejoin="round"/></g>
<g filter="url(#bl0)"><polyline points="180.0,487.0 219.0,495.0" fill="none" stroke="#b7b7b7" stroke-width="4.800000000000001" stroke-linejoin="round"/><polyline points="180.0,487.0 219.0,495.0" fill="none" stroke="#a0a0a0" stroke-width="2.8" stroke-linejoin="round"/><polyline points="180.0,487.0 219.0,495.0" fill="none" stroke="#8a8a8a" stroke-width="1.0" stroke-linejoin="round"/></g>
<g filter="url(#bl0)"><polyline points="180.0,497.0 219.0,505.0" fill="none" stroke="#c0c0c0" stroke-width="4.800000000000001" stroke-linejoin="round"/><polyline points="180.0,497.0 219.0,505.0" fill="none" stroke="#a9a9a9" stroke-width="2.8" stroke-linejoin="round"/><polyline points="180.0,497.0 219.0,505.0" fill="none" stroke="#939393" stroke-width="1.0" stroke-linejoin="round"/></g>
<g filter="url(#bl0)"><polyline points="180.0,415.0 198.0,406.0 213.0,400.0" fill="none" stroke="#cecece" stroke-width="3.2" stroke-linejoin="round"/></g>
<g filter="url(#bl0)"><polyline points="212.0,519.0 227.0,488.0 240.0,477.0" fill="none" stroke="#c4c4c4" stroke-width="4.0" stroke-linejoin="round"/><polyline points="212.0,519.0 227.0,488.0 240.0,477.0" fill="none" stroke="#aeaeae" stroke-width="2.0" stroke-linejoin="round"/><polyline points="212.0,519.0 227.0,488.0 240.0,477.0" fill="none" stroke="#979797" stroke-width="1.0" stroke-linejoin="round"/></g>
<g filter="url(#bl0)"><polyline points="255.0,377.0 257.0,436.0" fill="none" stroke="#cecece" stroke-width="4.800000000000001" stroke-linejoin="round"/><polyline points="255.0,377.0 257.0,436.0" fill="none" stroke="#b7b7b7" stroke-width="2.8" stroke-linejoin="round"/><polyline points="255.0,377.0 257.0,436.0" fill="none" stroke="#a1a1a1" stroke-width="1.0" stroke-linejoin="round"/></g>
<g filter="url(#bl0)"><polyline points="268.0,350.0 266.5,377.0 262.0,450.0" fill="none" stroke="#b7b7b7" stroke-width="11" stroke-linejoin="round"/><polyline points="268.0,350.0 266.5,377.0 262.0,450.0" fill="none" stroke="#a0a0a0" stroke-width="8.4" stroke-linejoin="round"/><polyline points="268.0,350.0 266.5,377.0 262.0,450.0" fill="none" stroke="#8a8a8a" stroke-width="5.7" stroke-linejoin="round"/></g>
<g filter="url(#bl0)"><polyline points="237.0,424.0 262.0,446.0 304.0,494.0" fill="none" stroke="#b2b2b2" stroke-width="13" stroke-linejoin="round"/><polyline points="237.0,424.0 262.0,446.0 304.0,494.0" fill="none" stroke="#9b9b9b" stroke-width="9.9" stroke-linejoin="round"/><polyline points="237.0,424.0 262.0,446.0 304.0,494.0" fill="none" stroke="#858585" stroke-width="6.8" stroke-linejoin="round"/><polyline points="237.0,424.0 262.0,446.0 304.0,494.0" fill="none" stroke="#7d7d7d" stroke-width="5.9" stroke-linejoin="round"/></g>
<g filter="url(#bl0)"><polyline points="239.0,477.0 286.0,477.0" fill="none" stroke="#bbbbbb" stroke-width="4.0" stroke-linejoin="round"/><polyline points="239.0,477.0 286.0,477.0" fill="none" stroke="#a5a5a5" stroke-width="2.0" stroke-linejoin="round"/><polyline points="239.0,477.0 286.0,477.0" fill="none" stroke="#8e8e8e" stroke-width="1.0" stroke-linejoin="round"/></g>
<g filter="url(#bl0)"><polyline points="278.0,519.0 285.0,470.0" fill="none" stroke="#c0c0c0" stroke-width="4.0" stroke-linejoin="round"/><polyline points="278.0,519.0 285.0,470.0" fill="none" stroke="#a9a9a9" stroke-width="2.0" stroke-linejoin="round"/><polyline points="278.0,519.0 285.0,470.0" fill="none" stroke="#939393" stroke-width="1.0" stroke-linejoin="round"/></g>
<g filter="url(#bl0)"><polyline points="300.0,412.0 304.0,451.0" fill="none" stroke="#c9c9c9" stroke-width="3.2" stroke-linejoin="round"/></g>
<g filter="url(#bl0)"><polyline points="282.0,412.0 280.0,432.0" fill="none" stroke="#c9c9c9" stroke-width="3.2" stroke-linejoin="round"/></g>
<g filter="url(#bl0)"><polyline points="236.7,448.0 260.0,519.0" fill="none" stroke="#b7b7b7" stroke-width="10" stroke-linejoin="round"/><polyline points="236.7,448.0 260.0,519.0" fill="none" stroke="#a0a0a0" stroke-width="7.6" stroke-linejoin="round"/><polyline points="236.7,448.0 260.0,519.0" fill="none" stroke="#8a8a8a" stroke-width="5.2" stroke-linejoin="round"/></g>
<g filter="url(#bl0)"><polyline points="275.0,448.0 304.0,462.0" fill="none" stroke="#cecece" stroke-width="4.0" stroke-linejoin="round"/><polyline points="275.0,448.0 304.0,462.0" fill="none" stroke="#b7b7b7" stroke-width="2.0" stroke-linejoin="round"/><polyline points="275.0,448.0 304.0,462.0" fill="none" stroke="#a1a1a1" stroke-width="1.0" stroke-linejoin="round"/></g>
<g filter="url(#bl0)"><polyline points="240.6,421.4 266.7,448.0" fill="none" stroke="#b7b7b7" stroke-width="9" stroke-linejoin="round"/><polyline points="240.6,421.4 266.7,448.0" fill="none" stroke="#a0a0a0" stroke-width="6.8" stroke-linejoin="round"/><polyline points="240.6,421.4 266.7,448.0" fill="none" stroke="#8a8a8a" stroke-width="4.7" stroke-linejoin="round"/></g>
<g filter="url(#bl0)"><polyline points="221.0,420.0 230.0,435.0 238.0,445.0" fill="none" stroke="#d1d1d1" stroke-width="3.2" stroke-linejoin="round"/></g>
<g filter="url(#bl0)"><polyline points="277.0,402.0 282.0,411.0" fill="none" stroke="#d6d6d6" stroke-width="3.2" stroke-linejoin="round"/></g>
<g filter="url(#bl0)"><polyline points="264.0,418.0 285.0,414.0" fill="none" stroke="#b7b7b7" stroke-width="3.2" stroke-linejoin="round"/></g>
<g filter="url(#bl0)"><polyline points="264.0,425.0 285.0,421.0" fill="none" stroke="#adadad" stroke-width="2.4000000000000004" stroke-linejoin="round"/></g>
<g filter="url(#bl0)"><polyline points="266.0,405.0 284.0,398.0" fill="none" stroke="#b7b7b7" stroke-width="2.4000000000000004" stroke-linejoin="round"/></g>
<g filter="url(#bl0)"><polyline points="113.1,377.0 118.4,394.0 121.0,405.0" fill="none" stroke="#d2d2d2" stroke-width="4.0" stroke-linejoin="round"/><polyline points="113.1,377.0 118.4,394.0 121.0,405.0" fill="none" stroke="#bcbcbc" stroke-width="2.0" stroke-linejoin="round"/><polyline points="113.1,377.0 118.4,394.0 121.0,405.0" fill="none" stroke="#a5a5a5" stroke-width="1.0" stroke-linejoin="round"/></g>
<g filter="url(#bl0)"><polyline points="118.4,403.1 139.0,390.0" fill="none" stroke="#d4d4d4" stroke-width="3.2" stroke-linejoin="round"/></g>
<g filter="url(#bl0)"><polyline points="120.0,377.0 139.0,385.0" fill="none" stroke="#adadad" stroke-width="8" stroke-linejoin="round"/><polyline points="120.0,377.0 139.0,385.0" fill="none" stroke="#979797" stroke-width="6.0" stroke-linejoin="round"/><polyline points="120.0,377.0 139.0,385.0" fill="none" stroke="#808080" stroke-width="4.0" stroke-linejoin="round"/></g>
<g filter="url(#bl0)"><polyline points="122.0,420.0 139.0,421.0" fill="none" stroke="#cecece" stroke-width="3.2" stroke-linejoin="round"/></g>
<g filter="url(#bl0)"><polyline points="57.0,417.0 70.0,415.0 78.0,413.0" fill="none" stroke="#d4d4d4" stroke-width="4.0" stroke-linejoin="round"/><polyline points="57.0,417.0 70.0,415.0 78.0,413.0" fill="none" stroke="#bfbfbf" stroke-width="2.0" stroke-linejoin="round"/><polyline points="57.0,417.0 70.0,415.0 78.0,413.0" fill="none" stroke="#aaaaaa" stroke-width="1.0" stroke-linejoin="round"/></g>
<g filter="url(#bl0)"><polyline points="62.0,413.0 70.0,390.0" fill="none" stroke="#d4d4d4" stroke-width="3.2" stroke-linejoin="round"/></g>
<g filter="url(#bl0)"><polyline points="57.0,440.0 78.0,444.0" fill="none" stroke="#cecece" stroke-width="4.0" stroke-linejoin="round"/><polyline points="57.0,440.0 78.0,444.0" fill="none" stroke="#b7b7b7" stroke-width="2.0" stroke-linejoin="round"/><polyline points="57.0,440.0 78.0,444.0" fill="none" stroke="#a1a1a1" stroke-width="1.0" stroke-linejoin="round"/></g>
<g filter="url(#bl0)"><polyline points="110.0,440.0 139.0,436.0" fill="none" stroke="#c9c9c9" stroke-width="4.0" stroke-linejoin="round"/><polyline points="110.0,440.0 139.0,436.0" fill="none" stroke="#b2b2b2" stroke-width="2.0" stroke-linejoin="round"/><polyline points="110.0,440.0 139.0,436.0" fill="none" stroke="#9c9c9c" stroke-width="1.0" stroke-linejoin="round"/></g>
<g filter="url(#bl0)"><polyline points="105.0,425.0 139.0,447.0" fill="none" stroke="#d2d2d2" stroke-width="4.0" stroke-linejoin="round"/><polyline points="105.0,425.0 139.0,447.0" fill="none" stroke="#bcbcbc" stroke-width="2.0" stroke-linejoin="round"/><polyline points="105.0,425.0 139.0,447.0" fill="none" stroke="#a5a5a5" stroke-width="1.0" stroke-linejoin="round"/></g>
<g filter="url(#bl0)"><polyline points="120.0,430.0 160.0,448.0 215.0,470.0" fill="none" stroke="#cacaca" stroke-width="2.4000000000000004" stroke-linejoin="round"/></g>
<g filter="url(#bl0)"><polyline points="125.0,455.0 170.0,447.0 220.0,440.0" fill="none" stroke="#cacaca" stroke-width="2.4000000000000004" stroke-linejoin="round"/></g>
<g filter="url(#bl0)"><polyline points="140.0,395.0 180.0,408.0 220.0,425.0" fill="none" stroke="#cacaca" stroke-width="2.4000000000000004" stroke-linejoin="round"/></g>
<g filter="url(#bl0)"><polyline points="150.0,500.0 185.0,476.0 215.0,455.0" fill="none" stroke="#cacaca" stroke-width="2.4000000000000004" stroke-linejoin="round"/></g>
<g filter="url(#bl0)"><polyline points="190.0,398.0 206.0,418.0 214.0,450.0" fill="none" stroke="#cacaca" stroke-width="2.4000000000000004" stroke-linejoin="round"/></g>
<g filter="url(#bl0)"><polyline points="100.0,500.0 130.0,480.0 150.0,470.0" fill="none" stroke="#cacaca" stroke-width="2.4000000000000004" stroke-linejoin="round"/></g>
<g filter="url(#bl0)"><polyline points="60.0,395.0 85.0,402.0" fill="none" stroke="#cacaca" stroke-width="2.4000000000000004" stroke-linejoin="round"/></g>
<g filter="url(#bl0)"><polyline points="60.0,500.0 90.0,495.0" fill="none" stroke="#cacaca" stroke-width="2.4000000000000004" stroke-linejoin="round"/></g>
<g filter="url(#bl0)"><polyline points="240.0,395.0 262.0,370.0" fill="none" stroke="#cacaca" stroke-width="2.4000000000000004" stroke-linejoin="round"/></g>
<g filter="url(#bl0)"><polyline points="270.0,470.0 300.0,440.0" fill="none" stroke="#cacaca" stroke-width="2.4000000000000004" stroke-linejoin="round"/></g>
<g filter="url(#bl0)"><polyline points="245.0,510.0 275.0,495.0" fill="none" stroke="#cacaca" stroke-width="2.4000000000000004" stroke-linejoin="round"/></g>
<g filter="url(#bl0)"><polyline points="130.0,360.0 150.0,352.0 175.0,350.0" fill="none" stroke="#cacaca" stroke-width="2.4000000000000004" stroke-linejoin="round"/></g>
<g filter="url(#bl0)"><polyline points="195.0,352.0 215.0,340.0" fill="none" stroke="#cacaca" stroke-width="2.4000000000000004" stroke-linejoin="round"/></g>
<g filter="url(#bl0)"><polyline points="110.0,345.0 120.0,320.0" fill="none" stroke="#cacaca" stroke-width="2.4000000000000004" stroke-linejoin="round"/></g>
<g filter="url(#bl0)"><polyline points="60.0,345.0 75.0,335.0" fill="none" stroke="#cacaca" stroke-width="2.4000000000000004" stroke-linejoin="round"/></g>
<g filter="url(#bl0)"><polyline points="150.0,515.0 180.0,508.0" fill="none" stroke="#cacaca" stroke-width="2.4000000000000004" stroke-linejoin="round"/></g>
<g filter="url(#bl0)"><polyline points="200.0,515.0 212.0,480.0" fill="none" stroke="#cacaca" stroke-width="2.4000000000000004" stroke-linejoin="round"/></g>
<g filter="url(#bl0)"><polyline points="57.0,372.0 100.0,400.0 139.0,420.0 191.0,446.0 240.0,472.8 304.0,503.0" fill="none" stroke="#d3d3d3" stroke-width="4.0" stroke-linejoin="round"/><polyline points="57.0,372.0 100.0,400.0 139.0,420.0 191.0,446.0 240.0,472.8 304.0,503.0" fill="none" stroke="#c3c3c3" stroke-width="2.0" stroke-linejoin="round"/><polyline points="57.0,372.0 100.0,400.0 139.0,420.0 191.0,446.0 240.0,472.8 304.0,503.0" fill="none" stroke="#b3b3b3" stroke-width="1.0" stroke-linejoin="round"/></g>
<g filter="url(#bl0)"><polyline points="204.0,306.0 193.4,320.0 164.8,380.0 155.4,412.0" fill="none" stroke="#d5d5d5" stroke-width="4.0" stroke-linejoin="round"/><polyline points="204.0,306.0 193.4,320.0 164.8,380.0 155.4,412.0" fill="none" stroke="#c6c6c6" stroke-width="2.0" stroke-linejoin="round"/><polyline points="204.0,306.0 193.4,320.0 164.8,380.0 155.4,412.0" fill="none" stroke="#b8b8b8" stroke-width="1.0" stroke-linejoin="round"/></g>
<g filter="url(#bl0)"><polyline points="135.0,321.0 127.5,332.0 115.7,377.0 110.0,400.0" fill="none" stroke="#d1d1d1" stroke-width="4.800000000000001" stroke-linejoin="round"/><polyline points="135.0,321.0 127.5,332.0 115.7,377.0 110.0,400.0" fill="none" stroke="#c0c0c0" stroke-width="2.8" stroke-linejoin="round"/><polyline points="135.0,321.0 127.5,332.0 115.7,377.0 110.0,400.0" fill="none" stroke="#aeaeae" stroke-width="1.0" stroke-linejoin="round"/></g>
<g filter="url(#bl0)"><polyline points="225.3,412.0 227.2,427.7 235.1,441.5 258.7,449.4 304.0,467.0" fill="none" stroke="#d3d3d3" stroke-width="3.2" stroke-linejoin="round"/></g>
<g filter="url(#bl0)"><polyline points="291.5,306.0 290.2,319.0 292.0,328.0 296.0,333.5 304.0,336.0" fill="none" stroke="#d5d5d5" stroke-width="3.2" stroke-linejoin="round"/></g>
<g filter="url(#bl0)"><polyline points="87.8,306.5 94.6,360.0 101.0,385.0" fill="none" stroke="#cacaca" stroke-width="4.4" stroke-linejoin="round"/><polyline points="87.8,306.5 94.6,360.0 101.0,385.0" fill="none" stroke="#b8b8b8" stroke-width="2.4" stroke-linejoin="round"/><polyline points="87.8,306.5 94.6,360.0 101.0,385.0" fill="none" stroke="#a5a5a5" stroke-width="1.0" stroke-linejoin="round"/></g>
<g filter="url(#bl0)"><polyline points="72.1,306.5 78.7,360.0 88.0,400.0 103.9,470.0 114.6,519.0" fill="none" stroke="#dadada" stroke-width="27.0" stroke-linejoin="round"/><polyline points="72.1,306.5 78.7,360.0 88.0,400.0 103.9,470.0 114.6,519.0" fill="none" stroke="#bebebe" stroke-width="25.6" stroke-linejoin="round"/><polyline points="72.1,306.5 78.7,360.0 88.0,400.0 103.9,470.0 114.6,519.0" fill="none" stroke="#a7a7a7" stroke-width="24.2" stroke-linejoin="round"/><polyline points="72.1,306.5 78.7,360.0 88.0,400.0 103.9,470.0 114.6,519.0" fill="none" stroke="#9d9d9d" stroke-width="22.5" stroke-linejoin="round"/><polyline points="72.1,306.5 78.7,360.0 88.0,400.0 103.9,470.0 114.6,519.0" fill="none" stroke="#969696" stroke-width="20.0" stroke-linejoin="round"/><polyline points="72.1,306.5 78.7,360.0 88.0,400.0 103.9,470.0 114.6,519.0" fill="none" stroke="#919191" stroke-width="12.2" stroke-linejoin="round"/></g>
<g filter="url(#bl0)"><polyline points="251.7,306.5 246.3,345.0 237.5,377.0 229.0,448.0 220.6,519.0" fill="none" stroke="#dadada" stroke-width="16.5" stroke-linejoin="round"/><polyline points="251.7,306.5 246.3,345.0 237.5,377.0 229.0,448.0 220.6,519.0" fill="none" stroke="#bebebe" stroke-width="15.1" stroke-linejoin="round"/><polyline points="251.7,306.5 246.3,345.0 237.5,377.0 229.0,448.0 220.6,519.0" fill="none" stroke="#a7a7a7" stroke-width="13.7" stroke-linejoin="round"/><polyline points="251.7,306.5 246.3,345.0 237.5,377.0 229.0,448.0 220.6,519.0" fill="none" stroke="#9d9d9d" stroke-width="12.0" stroke-linejoin="round"/><polyline points="251.7,306.5 246.3,345.0 237.5,377.0 229.0,448.0 220.6,519.0" fill="none" stroke="#969696" stroke-width="9.5" stroke-linejoin="round"/><polyline points="251.7,306.5 246.3,345.0 237.5,377.0 229.0,448.0 220.6,519.0" fill="none" stroke="#919191" stroke-width="7.4" stroke-linejoin="round"/></g>
<g filter="url(#bl0)"><polyline points="287.8,306.0 289.5,377.0 291.8,448.0 294.2,519.0" fill="none" stroke="#dadada" stroke-width="13.0" stroke-linejoin="round"/><polyline points="287.8,306.0 289.5,377.0 291.8,448.0 294.2,519.0" fill="none" stroke="#bebebe" stroke-width="11.6" stroke-linejoin="round"/><polyline points="287.8,306.0 289.5,377.0 291.8,448.0 294.2,519.0" fill="none" stroke="#aaaaaa" stroke-width="10.2" stroke-linejoin="round"/><polyline points="287.8,306.0 289.5,377.0 291.8,448.0 294.2,519.0" fill="none" stroke="#a0a0a0" stroke-width="8.5" stroke-linejoin="round"/><polyline points="287.8,306.0 289.5,377.0 291.8,448.0 294.2,519.0" fill="none" stroke="#999999" stroke-width="6.0" stroke-linejoin="round"/><polyline points="287.8,306.0 289.5,377.0 291.8,448.0 294.2,519.0" fill="none" stroke="#949494" stroke-width="5.9" stroke-linejoin="round"/></g>
<g filter="url(#bl0)"><polyline points="82.6,433.7 106.2,479.9" fill="none" stroke="#d6d6d6" stroke-width="3.6" stroke-linejoin="round"/><polyline points="82.6,433.7 106.2,479.9" fill="none" stroke="#c9c9c9" stroke-width="1.6" stroke-linejoin="round"/><polyline points="82.6,433.7 106.2,479.9" fill="none" stroke="#bcbcbc" stroke-width="1.0" stroke-linejoin="round"/></g>
<g filter="url(#bl0)"><polyline points="57.0,370.3 100.0,398.0 121.3,411.3" fill="none" stroke="#d3d3d3" stroke-width="4.4" stroke-linejoin="round"/><polyline points="57.0,370.3 100.0,398.0 121.3,411.3" fill="none" stroke="#c3c3c3" stroke-width="2.4" stroke-linejoin="round"/><polyline points="57.0,370.3 100.0,398.0 121.3,411.3" fill="none" stroke="#b3b3b3" stroke-width="1.0" stroke-linejoin="round"/></g>
</g>
<rect x="221.7" y="505.0" width="76.4" height="3.2" fill="#fff"/>
<text x="231.0" y="495.6" font-size="22" fill="#fff" style="stroke:#fff;stroke-width:0.2px">4</text>
<text x="252.6" y="495.6" font-size="22" fill="#fff" style="stroke:#fff;stroke-width:0.2px">μm</text>
</svg></body></html>
